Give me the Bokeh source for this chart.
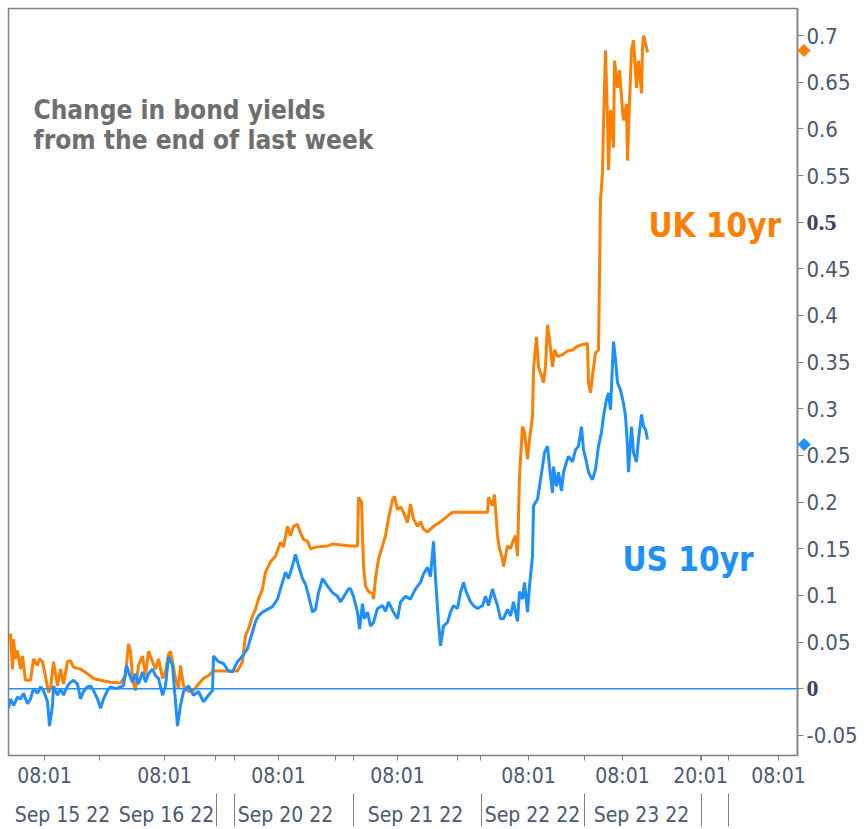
from bokeh.plotting import figure
from bokeh.models import Range1d, LinearAxis, FixedTicker, Span, Label
from bokeh.embed import file_html
from bokeh.resources import INLINE

# ---- data: bar index (chart time axis) and change in yield (percentage points)
uk_bar = [2, 4, 5, 7, 9, 12, 14, 17, 22, 25, 29, 31, 34, 37, 40, 42, 45, 49, 52, 55,
          59, 62, 65, 72, 79, 85, 92, 102, 112, 117, 120, 122, 124, 127, 130, 134, 137, 140, 144, 147,
          150, 154, 157, 160, 162, 164, 167, 170, 172, 175, 180, 185, 190, 195, 200, 205, 212, 220, 229, 234,
          237, 240, 244, 247, 250, 254, 257, 262, 267, 272, 275, 279, 282, 285, 289, 292, 295, 299, 302, 309,
          319, 324, 342, 349, 350, 353, 355, 357, 360, 364, 365, 367, 370, 374, 377, 380, 384, 386, 389, 392,
          395, 399, 402, 405, 409, 412, 415, 419, 425, 432, 439, 444, 479, 480, 484, 486, 489, 491, 494, 495,
          499, 502, 505, 507, 509, 511, 514, 516, 519, 521, 524, 525, 528, 530, 533, 535, 537, 539, 541, 544,
          546, 549, 554, 559, 564, 569, 574, 579, 580, 582, 584, 587, 590, 592, 594, 595, 597, 599, 600, 602,
          605, 606, 609, 611, 614, 615, 618, 619, 621, 623, 625, 628, 630, 633, 634, 635, 638, 639]
uk_chg = [0.059, 0.021, 0.053, 0.032, 0.041, 0.021, 0.035, 0.009, 0.009, 0.032, 0.025, 0.032, 0.029, 0.013, -0.004, 0.000, 0.029, 0.003, 0.021, 0.005,
          0.029, 0.030, 0.023, 0.021, 0.016, 0.011, 0.009, 0.007, 0.006, 0.014, 0.048, 0.040, 0.011, -0.002, 0.025, 0.035, 0.014, 0.040, 0.029, 0.021,
          0.032, 0.011, 0.018, 0.037, 0.040, 0.029, 0.011, 0.000, 0.025, 0.003, -0.003, -0.002, 0.005, 0.011, 0.014, 0.019, 0.019, 0.019, 0.019, 0.029,
          0.057, 0.064, 0.078, 0.085, 0.096, 0.107, 0.125, 0.136, 0.142, 0.157, 0.152, 0.174, 0.164, 0.174, 0.176, 0.167, 0.160, 0.158, 0.150, 0.152,
          0.153, 0.155, 0.153, 0.153, 0.205, 0.200, 0.132, 0.110, 0.104, 0.102, 0.096, 0.118, 0.139, 0.153, 0.164, 0.182, 0.203, 0.206, 0.192, 0.195,
          0.189, 0.178, 0.198, 0.182, 0.174, 0.179, 0.171, 0.168, 0.174, 0.179, 0.185, 0.189, 0.189, 0.205, 0.196, 0.208, 0.164, 0.150, 0.139, 0.131,
          0.153, 0.150, 0.160, 0.164, 0.142, 0.228, 0.281, 0.275, 0.246, 0.267, 0.292, 0.342, 0.377, 0.345, 0.335, 0.328, 0.345, 0.390, 0.374, 0.345,
          0.363, 0.356, 0.358, 0.362, 0.363, 0.367, 0.369, 0.370, 0.328, 0.317, 0.336, 0.360, 0.363, 0.524, 0.553, 0.606, 0.684, 0.609, 0.556, 0.620,
          0.580, 0.673, 0.644, 0.663, 0.620, 0.609, 0.627, 0.566, 0.627, 0.684, 0.695, 0.644, 0.673, 0.638, 0.687, 0.700, 0.687, 0.682]

us_bar = [0, 2, 5, 9, 12, 15, 19, 22, 25, 29, 32, 35, 39, 41, 44, 45, 49, 52, 55, 59,
          62, 65, 69, 72, 75, 79, 82, 85, 89, 92, 95, 99, 102, 107, 112, 115, 118, 120, 124, 127,
          130, 134, 137, 140, 144, 147, 150, 154, 157, 160, 164, 167, 169, 172, 175, 180, 185, 190, 195, 200,
          204, 205, 210, 215, 220, 224, 229, 234, 239, 244, 247, 250, 254, 259, 264, 269, 272, 277, 280, 284,
          287, 290, 294, 297, 300, 304, 307, 310, 314, 319, 324, 329, 332, 335, 340, 342, 345, 349, 351, 354,
          356, 359, 362, 365, 369, 374, 377, 380, 385, 389, 392, 397, 402, 407, 412, 415, 419, 422, 425, 427,
          430, 432, 435, 439, 442, 445, 449, 452, 455, 458, 462, 465, 469, 474, 477, 480, 484, 486, 489, 492,
          495, 499, 502, 505, 509, 511, 514, 516, 519, 521, 524, 525, 529, 531, 534, 536, 539, 541, 544, 545,
          548, 550, 553, 555, 558, 560, 564, 567, 570, 573, 575, 578, 580, 584, 587, 590, 593, 595, 598, 600,
          602, 605, 607, 609, 612, 615, 617, 619, 620, 623, 625, 628, 630, 633, 635, 637, 639]
us_chg = [-0.021, -0.011, -0.018, -0.009, -0.011, -0.005, -0.016, -0.011, 0.000, -0.005, 0.002, -0.002, -0.014, -0.040, -0.018, 0.003, -0.007, 0.000, -0.007, 0.003,
          0.007, 0.009, 0.005, -0.011, -0.003, 0.002, 0.003, -0.002, -0.011, -0.021, -0.011, -0.002, 0.002, 0.000, 0.002, 0.003, 0.025, 0.018, 0.007, 0.016,
          0.005, 0.018, 0.007, 0.016, 0.021, 0.014, 0.011, -0.007, 0.003, 0.034, 0.025, -0.014, -0.040, -0.018, -0.003, 0.003, -0.007, -0.003, -0.014, -0.007,
          -0.002, 0.035, 0.029, 0.027, 0.019, 0.018, 0.029, 0.035, 0.043, 0.061, 0.072, 0.078, 0.082, 0.085, 0.088, 0.096, 0.107, 0.125, 0.118, 0.132,
          0.144, 0.132, 0.118, 0.112, 0.100, 0.082, 0.085, 0.103, 0.118, 0.110, 0.103, 0.099, 0.093, 0.098, 0.107, 0.107, 0.099, 0.082, 0.064, 0.091,
          0.075, 0.082, 0.067, 0.071, 0.086, 0.089, 0.083, 0.093, 0.082, 0.075, 0.093, 0.099, 0.096, 0.107, 0.114, 0.123, 0.130, 0.120, 0.158, 0.118,
          0.071, 0.046, 0.067, 0.071, 0.082, 0.089, 0.086, 0.103, 0.114, 0.103, 0.093, 0.089, 0.086, 0.089, 0.099, 0.089, 0.107, 0.099, 0.089, 0.075,
          0.075, 0.085, 0.078, 0.093, 0.072, 0.104, 0.096, 0.114, 0.082, 0.110, 0.142, 0.196, 0.203, 0.217, 0.238, 0.253, 0.260, 0.238, 0.210, 0.238,
          0.217, 0.232, 0.212, 0.232, 0.243, 0.249, 0.243, 0.256, 0.260, 0.281, 0.256, 0.243, 0.232, 0.224, 0.235, 0.260, 0.275, 0.292, 0.310, 0.317,
          0.299, 0.372, 0.353, 0.328, 0.320, 0.306, 0.292, 0.260, 0.232, 0.281, 0.253, 0.243, 0.267, 0.294, 0.281, 0.278, 0.267]

uk_last = 0.686
us_last = 0.263

y_ticks = [-0.05, 0.0, 0.05, 0.1, 0.15, 0.2, 0.25, 0.3, 0.35, 0.4, 0.45, 0.5, 0.55, 0.6, 0.65, 0.7]
y_tick_labels = ["-0.05", "0", "0.05", "0.1", "0.15", "0.2", "0.25", "0.3", "0.35", "0.4",
                 "0.45", "0.5", "0.55", "0.6", "0.65", "0.7"]
y_bold_labels = ["0", "0.5"]

time_tick_bars = [36, 156, 270, 389, 520, 614, 692, 770]
time_tick_labels = ["08:01", "08:01", "08:01", "08:01", "08:01", "08:01", "20:01", "08:01"]
time_minor_bars = [91, 207, 226, 327, 345, 449, 472, 576, 693, 720]

date_bars = [54, 158, 277, 407, 524, 633]
date_labels = ["Sep 15 22", "Sep 16 22", "Sep 20 22", "Sep 21 22", "Sep 22 22", "Sep 23 22"]
day_separators = [208, 226, 345, 473, 576, 693, 720]

ORANGE = "#ff8000"
BLUE = "#1e8fff"
GREY = "#808080"
LABEL_C = "#4b5872"
FONT = "DejaVu Sans Condensed"

X0, X1 = 0, 789
Y0, Y1 = -0.0716, 0.729

p = figure(width=866, height=829, output_backend="svg", toolbar_location=None,
           x_range=Range1d(X0, X1), y_range=Range1d(Y0, Y1),
           x_axis_location=None, y_axis_location="right",
           min_border_left=8, min_border_top=8, min_border_right=69, min_border_bottom=72)
p.grid.visible = False
p.outline_line_color = GREY
p.outline_line_width = 1.5
p.background_fill_color = "white"
p.border_fill_color = "white"

def plain(ax):
    ax.axis_line_color = None
    ax.major_tick_line_color = None
    ax.minor_tick_line_color = None
    ax.major_tick_in = 0
    ax.minor_tick_in = 0
    ax.minor_tick_out = 0

# right value axis (its panel is about 64px wide)
V_EXTENT = 64
ya = p.yaxis[0]
ya.ticker = FixedTicker(ticks=y_ticks)
ya.major_label_overrides = {t: ("" if lab in y_bold_labels else lab) for t, lab in zip(y_ticks, y_tick_labels)}
ya.axis_line_color = GREY
ya.axis_line_width = 1.5
ya.major_tick_line_color = GREY
ya.major_tick_out = 6
ya.major_tick_in = 0
ya.minor_tick_line_color = None
ya.minor_tick_out = 0
ya.major_label_text_font = FONT
ya.major_label_text_font_size = "22px"
ya.major_label_text_color = LABEL_C
ya.major_label_standoff = 3

# current-value markers, pulled back over the value axis with negative standoff
for val, col in [(uk_last, ORANGE), (us_last, BLUE)]:
    ma = LinearAxis(ticker=FixedTicker(ticks=[val]))
    plain(ma)
    ma.major_label_overrides = {val: "\u25c6"}
    ma.major_tick_out = 0
    ma.major_label_standoff = -V_EXTENT + 1
    ma.major_label_text_font = "DejaVu Sans"
    ma.major_label_text_font_size = "17px"
    ma.major_label_text_color = col
    p.add_layout(ma, "right")

# bold labels for 0 and 0.5
bold_ticks = [t for t, lab in zip(y_ticks, y_tick_labels) if lab in y_bold_labels]
ba = LinearAxis(ticker=FixedTicker(ticks=bold_ticks))
plain(ba)
ba.major_label_overrides = {t: lab for t, lab in zip(y_ticks, y_tick_labels) if lab in y_bold_labels}
ba.major_tick_out = 0
ba.major_label_standoff = -V_EXTENT + 10
ba.major_label_text_font = "Liberation Serif"
ba.major_label_text_font_style = "bold"
ba.major_label_text_font_size = "24px"
ba.major_label_text_color = "#3a465e"
p.add_layout(ba, "right")

# time axis
xa = LinearAxis(ticker=FixedTicker(ticks=time_tick_bars, minor_ticks=time_minor_bars))
xa.major_label_overrides = {b: lab for b, lab in zip(time_tick_bars, time_tick_labels)}
xa.axis_line_color = GREY
xa.major_tick_line_color = GREY
xa.minor_tick_line_color = GREY
xa.major_tick_out = 5
xa.major_tick_in = 0
xa.minor_tick_out = 5
xa.minor_tick_in = 0
xa.major_label_text_font = FONT
xa.major_label_text_font_size = "21px"
xa.major_label_text_color = LABEL_C
xa.major_label_standoff = 3
p.add_layout(xa, "below")

# date axis with day separators
da = LinearAxis(ticker=FixedTicker(ticks=date_bars, minor_ticks=day_separators))
da.major_label_overrides = {b: lab for b, lab in zip(date_bars, date_labels)}
da.axis_line_color = None
da.major_tick_line_color = None
da.minor_tick_line_color = GREY
da.major_tick_out = 0
da.major_tick_in = 0
da.minor_tick_out = 36
da.minor_tick_in = -3
da.major_label_text_font = FONT
da.major_label_text_font_size = "21px"
da.major_label_text_color = LABEL_C
da.major_label_standoff = -24
p.add_layout(da, "below")

p.add_layout(Span(location=0, dimension="width", line_color=BLUE, line_width=1.5))

p.line(uk_bar, uk_chg, line_color=ORANGE, line_width=3)
p.line(us_bar, us_chg, line_color=BLUE, line_width=3)

# annotations
p.add_layout(Label(x=25, y=0.620, text="Change in bond yields", text_font=FONT,
                   text_font_style="bold", text_font_size="26px", text_color="#6e6e6e",
                   text_baseline="alphabetic"))
p.add_layout(Label(x=25, y=0.588, text="from the end of last week", text_font=FONT,
                   text_font_style="bold", text_font_size="26px", text_color="#6e6e6e",
                   text_baseline="alphabetic"))
p.add_layout(Label(x=640, y=0.496, text="UK 10yr", text_font=FONT, text_font_style="bold",
                   text_font_size="33px", text_color=ORANGE, text_baseline="alphabetic"))
p.add_layout(Label(x=614, y=0.138, text="US 10yr", text_font=FONT, text_font_style="bold",
                   text_font_size="33px", text_color=BLUE, text_baseline="alphabetic"))

open("out.html", "w").write(file_html(p, INLINE))
